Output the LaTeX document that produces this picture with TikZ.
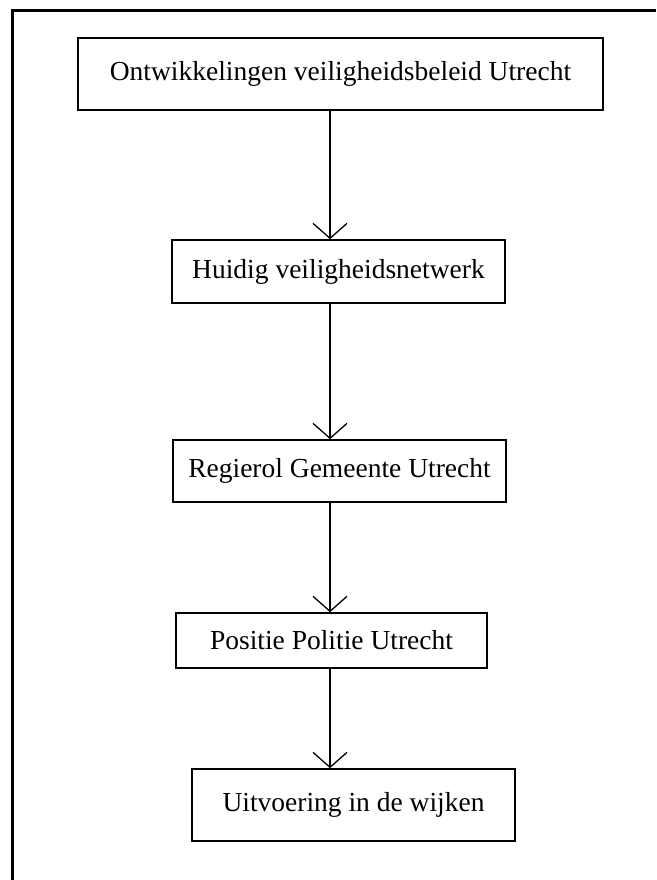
\documentclass[tikz,border=0pt]{standalone}
\usepackage{fontspec}
\setmainfont{Liberation Serif}
\usetikzlibrary{arrows.meta}
\begin{document}
\begin{tikzpicture}[x=1pt,y=-1pt,
  box/.style={draw, line width=1.6pt, inner sep=0pt, font=\fontsize{27.5}{32}\selectfont},
  arr/.style={line width=1.6pt, -{Straight Barb[length=15pt,width=34pt,line width=1.3pt]}},
  frame/.style={line width=3.5pt}]
\useasboundingbox (0,0) rectangle (656,880);
\draw[frame] (12.5,880) -- (12.5,10.5) -- (656,10.5);
\node[box, minimum width=525pt, minimum height=72pt] (b1) at (340.5,74) {Ontwikkelingen veiligheidsbeleid Utrecht};
\node[box, minimum width=333pt, minimum height=63pt] (b2) at (338.5,271.5) {Huidig veiligheidsnetwerk};
\node[box, minimum width=333pt, minimum height=62pt] (b3) at (339.5,471) {Regierol Gemeente Utrecht};
\node[box, minimum width=311pt, minimum height=55pt] (b4) at (331.5,640.5) {Positie Politie Utrecht};
\node[box, minimum width=323pt, minimum height=72pt] (b5) at (353.5,805) {Uitvoering in de wijken};
\coordinate (ax) at (330,0);
\draw[arr] (b1.south -| ax) -- (b2.north -| ax);
\draw[arr] (b2.south -| ax) -- (b3.north -| ax);
\draw[arr] (b3.south -| ax) -- (b4.north -| ax);
\draw[arr] (b4.south -| ax) -- (b5.north -| ax);
\end{tikzpicture}
\end{document}
